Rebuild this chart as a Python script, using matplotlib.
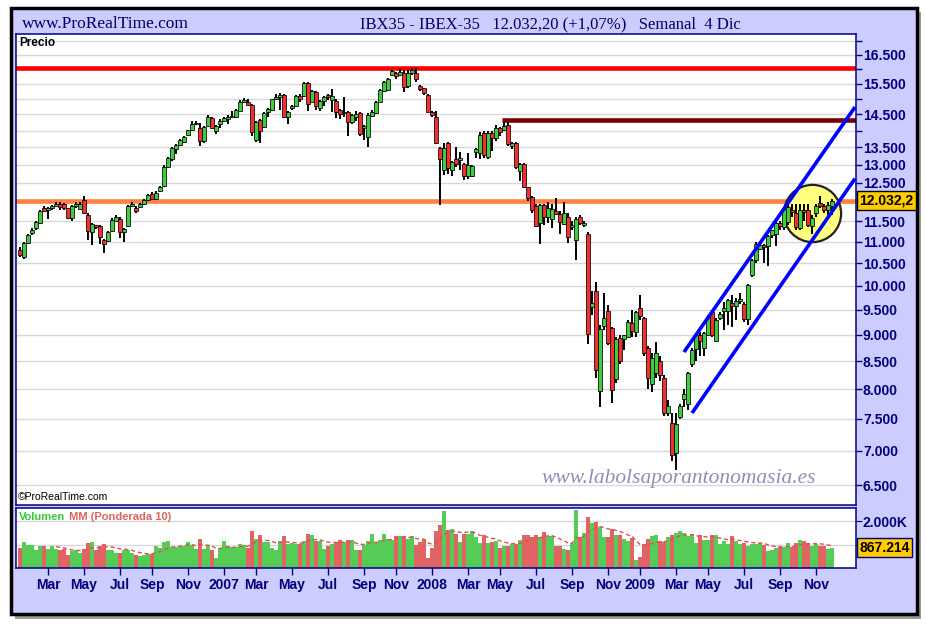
import numpy as np
import pandas as pd
import matplotlib
matplotlib.use("Agg")
import matplotlib.pyplot as plt
from matplotlib.patches import Rectangle
from matplotlib.ticker import NullLocator

# Weekly IBEX-35 candles, 13 Jan 2006 .. 4 Dec 2009
opens = [10800, 10640, 10985, 11210, 11330, 11460, 11830, 11790, 11830, 11890,
         11940, 11930, 11830, 11590, 11880, 11820, 12050, 11660, 11250, 11400,
         11380, 11050, 11020, 11260, 11520, 11570, 11230, 11380, 11890, 11840,
         11860, 11940, 12050, 12200, 12070, 12290, 12420, 12940, 13150, 13450,
         13560, 13650, 13860, 14010, 14190, 14069, 13688, 14138, 14375, 13987,
         14190, 14302, 14350, 14430, 14407, 14615, 14880, 14892, 14796, 13718,
         14323, 14117, 14580, 14637, 14978, 15043, 15120, 14407, 14700, 14774,
         15087, 15087, 15507, 14902, 15225, 14704, 14934, 15110, 14956, 14934,
         14637, 14530, 14565, 14270, 14426, 14530, 14069, 13815, 14448, 14530,
         14902, 15258, 15282, 15775, 15855, 15775, 15855, 15412, 15855, 15855,
         15417, 15340, 15120, 14584, 14407, 13473, 12853, 13620, 12853, 13165,
         13136, 13012, 12696, 12690, 13376, 13327, 13920, 13210, 13940, 13770,
         14069, 14017, 14169, 13540, 13620, 12817, 13012, 12383, 12117, 11898,
         11461, 11908, 11620, 11553, 11770, 11686, 11445, 11600, 11370, 11047,
         11600, 11412, 11200, 9560, 9890, 7965, 9180, 9480, 9125, 8170,
         8930, 8920, 8960, 9230, 9050, 9530, 9330, 8750, 8080, 8280,
         8500, 8200, 7590, 7429, 6960, 7530, 7830, 7750, 8450, 8720,
         9000, 8740, 9000, 9450, 8870, 9330, 9480, 9480, 9640, 9570,
         9670, 9620, 9320, 10230, 10570, 10830, 10930, 10900, 11170, 11200,
         11450, 11350, 11480, 11790, 11700, 11330, 11790, 11800, 11380, 11700,
         11980, 11890, 11800, 11900]
highs = [10870, 11000, 11190, 11330, 11510, 11800, 11900, 11860, 11920, 11990,
         11990, 11970, 11850, 11910, 12000, 11990, 12140, 11700, 11450, 11420,
         11400, 11080, 11260, 11580, 11650, 11620, 11340, 11910, 11990, 11900,
         11960, 12080, 12200, 12250, 12270, 12420, 12980, 13220, 13520, 13600,
         13750, 13830, 14030, 14300, 14290, 14220, 14150, 14479, 14420, 14180,
         14340, 14420, 14480, 14615, 14670, 14950, 15030, 15000, 14830, 14300,
         14350, 14580, 14700, 15000, 15140, 15180, 15150, 14620, 14800, 15120,
         15150, 15560, 15560, 15300, 15260, 14950, 15080, 15150, 15320, 15000,
         14670, 15043, 14600, 14520, 14600, 14560, 14180, 14540, 14630, 14940,
         15320, 15600, 15700, 15950, 15900, 16000, 15970, 15970, 16040, 16020,
         15450, 15360, 15150, 14620, 14600, 13500, 13640, 13650, 13100, 13500,
         13350, 13050, 13327, 13000, 13480, 13950, 13980, 13990, 13990, 14180,
         14120, 14270, 14270, 13660, 13660, 13040, 13040, 12400, 12150, 11950,
         11950, 11950, 12000, 11950, 12089, 11750, 12000, 11700, 11500, 11600,
         11650, 11500, 11250, 9900, 10090, 9200, 9860, 9600, 9150, 8950,
         9000, 9000, 9300, 9500, 9470, 9800, 9350, 8780, 8650, 8850,
         8600, 8250, 7820, 7600, 7600, 7750, 8000, 8300, 8750, 9010,
         9050, 9050, 9400, 9500, 9330, 9450, 9650, 9720, 9800, 9750,
         9850, 9650, 10050, 10600, 10990, 10950, 10960, 11170, 11300, 11480,
         11500, 11850, 11950, 11950, 11950, 11950, 11950, 11950, 11650, 11950,
         12150, 11950, 11990, 12080]
lows = [10640, 10600, 10950, 11170, 11300, 11440, 11760, 11570, 11800, 11860,
        11780, 11800, 11570, 11520, 11850, 11800, 11690, 11040, 10920, 11310,
        10950, 10740, 10990, 11240, 11500, 11100, 11000, 11360, 11870, 11720,
        11840, 11920, 12030, 12050, 12050, 12260, 12390, 12900, 13120, 13300,
        13530, 13620, 13830, 13990, 14170, 13540, 13620, 14100, 14040, 13900,
        14069, 14280, 14200, 14400, 14380, 14600, 14860, 14780, 13836, 13650,
        13620, 14090, 14410, 14610, 14950, 14637, 14380, 14200, 14650, 14750,
        14900, 15060, 14615, 14880, 14637, 14600, 14750, 14950, 14584, 14375,
        14350, 14426, 13845, 14200, 14300, 13836, 13718, 13520, 14420, 14500,
        14880, 15230, 15250, 15750, 15650, 15750, 15225, 15350, 15800, 15550,
        15250, 15120, 14560, 14420, 13600, 11916, 12715, 12750, 12690, 12950,
        12850, 12579, 12600, 12650, 13200, 13150, 13200, 13150, 13400, 13700,
        13850, 13980, 13550, 13450, 12880, 12560, 12350, 12020, 11700, 11350,
        10952, 11400, 11450, 11330, 11650, 11191, 11400, 10983, 11300, 10580,
        11420, 11350, 8820, 9400, 8200, 7700, 9100, 8800, 7760, 8100,
        8450, 8700, 8930, 8950, 8950, 9300, 8600, 8000, 7950, 8200,
        8150, 7550, 7550, 6850, 6715, 7500, 7700, 7650, 8400, 8500,
        8600, 8600, 8980, 8950, 8850, 9300, 9100, 9200, 9150, 9300,
        9620, 9250, 9200, 10200, 10500, 10800, 10500, 10450, 11100, 10900,
        11300, 11300, 11400, 11600, 11300, 11300, 11500, 11350, 11200, 11600,
        11850, 11700, 11650, 11650]
closes = [10690, 10985, 11170, 11300, 11490, 11770, 11770, 11830, 11890, 11940,
          11860, 11830, 11590, 11890, 11940, 11950, 11700, 11270, 11430, 11360,
          11110, 10950, 11250, 11540, 11620, 11230, 11320, 11890, 11940, 11770,
          11930, 12050, 12170, 12070, 12240, 12383, 12950, 13180, 13470, 13560,
          13730, 13810, 14010, 14210, 14240, 13688, 14099, 14407, 14069, 14147,
          14302, 14375, 14430, 14460, 14637, 14892, 14956, 14806, 13966, 14274,
          13987, 14552, 14660, 14978, 15043, 15120, 14407, 14583, 14770, 15087,
          15000, 15507, 14828, 15258, 14774, 14914, 15043, 15043, 15087, 14584,
          14510, 14584, 14254, 14479, 14510, 13894, 14138, 14479, 14584, 14902,
          15282, 15560, 15640, 15912, 15742, 15890, 15392, 15855, 15970, 15660,
          15303, 15173, 14584, 14479, 13640, 13156, 13473, 12900, 13070, 13020,
          13185, 12696, 12992, 12964, 13443, 13866, 13280, 13940, 13770, 14069,
          13966, 14138, 13598, 13620, 12927, 13012, 12400, 12089, 11788, 11387,
          11908, 11600, 11830, 11805, 11686, 11494, 11704, 11126, 11412, 11553,
          11453, 11453, 9013, 9630, 8340, 9120, 9330, 8830, 7984, 8920,
          8500, 8990, 9260, 9080, 9460, 9370, 8650, 8200, 8550, 8650,
          8250, 7600, 7710, 6936, 7420, 7720, 7910, 8290, 8700, 9000,
          8870, 9040, 9350, 9000, 9300, 9420, 9540, 9700, 9570, 9690,
          9720, 9320, 10020, 10570, 10960, 10930, 10880, 11140, 11280, 11450,
          11390, 11810, 11870, 11730, 11350, 11790, 11730, 11400, 11580, 11880,
          11880, 11800, 11920, 12032.2]
# Weekly volume, thousands
volumes = [874, 1128, 1001, 1001, 790, 959, 959, 832, 959, 832,
           790, 804, 536, 719, 776, 663, 818, 1086, 1114, 790,
           959, 1043, 790, 790, 663, 663, 790, 790, 635, 536,
           494, 536, 606, 606, 959, 874, 1114, 1156, 917, 917,
           945, 945, 1114, 973, 832, 1241, 804, 1001, 761, 409,
           874, 1156, 945, 888, 888, 1029, 1001, 874, 1579, 1241,
           1410, 1128, 1128, 874, 776, 1156, 1368, 1029, 1086, 1015,
           1043, 1156, 1466, 1410, 1156, 1156, 832, 959, 1043, 1128,
           1199, 1114, 1199, 1199, 776, 776, 1001, 1156, 1466, 1058,
           1199, 1466, 1241, 1213, 1368, 1368, 1368, 1241, 1368, 1001,
           1128, 1241, 409, 874, 1593, 1833, 2425, 1622, 1664, 1466,
           1114, 1466, 1466, 1579, 1340, 1086, 1424, 1086, 1128, 1156,
           874, 959, 959, 1043, 1043, 1213, 1424, 1424, 1340, 1424,
           1311, 1537, 1368, 1368, 959, 959, 832, 790, 1086, 2468,
           1340, 1509, 2186, 1932, 1974, 1777, 1340, 1340, 1664, 1424,
           1424, 1255, 1170, 1297, 353, 451, 1015, 1241, 1368, 1424,
           1170, 1114, 1340, 1424, 1509, 1593, 1481, 1354, 1466, 1058,
           1424, 1199, 1199, 1424, 1424, 1043, 1156, 1043, 1382, 1142,
           1029, 1086, 959, 1043, 1043, 1086, 1001, 733, 776, 874,
           888, 888, 1072, 888, 1072, 1199, 1156, 1043, 959, 1043,
           959, 959, 818, 867.214]

# Drawn objects
resistance_top = 16030
resistance_mid = 14315
resistance_mid_from = 120.5
support_line = 12030
channel_upper_x = [166, 208.75]
channel_upper_y = [8668, 14730]
channel_lower_x = [168, 208.75]
channel_lower_y = [7597, 12617]
circle_x, circle_y = 197.9, 11711

price_ticks = list(range(6500, 17001, 500))
price_labels = [16500, 15500, 14500, 13500, 13000, 12500, 11500, 11000, 10500,
                10000, 9500, 9000, 8500, 8000, 7500, 7000, 6500]
vol_ticks = [1000, 2000]
month_names = {1: None, 3: 'Mar', 5: 'May', 7: 'Jul', 9: 'Sep', 11: 'Nov'}

NAVY = '#000080'
NARROW = ['Liberation Sans Narrow', 'Liberation Sans', 'DejaVu Sans']
SANS = ['Liberation Sans', 'DejaVu Sans']
SERIF = ['Liberation Serif', 'DejaVu Serif']


def es_num(v, decimals=0):
    # Spanish number format: 12.032,2
    s = f"{v:,.{decimals}f}"
    return s.replace(',', '#').replace('.', ',').replace('#', '.')


dates = pd.date_range('2006-01-13', periods=len(closes), freq='7D')
x = np.arange(len(closes))
o = np.array(opens, float)
c = np.array(closes, float)
up = c >= o
colors = np.where(up, '#3FCC3F', '#F52E2E')

W, H = 926, 626
fig = plt.figure(figsize=(W / 100, H / 100), dpi=100, facecolor='white')

# Outer lavender frame with a shadow
fig.patches.append(Rectangle((15 / W, 1 - 619 / H), 906 / W, 607 / H, transform=fig.transFigure,
                             facecolor='#9a9a9a', edgecolor='none', zorder=-2))
fig.patches.append(Rectangle((11 / W, 1 - 614 / H), 906 / W, 606 / H, transform=fig.transFigure,
                             facecolor='#CCCCFF', edgecolor='black', lw=2.5, zorder=-1))

ax = fig.add_axes([16 / W, 1 - 505 / H, 840 / W, 471 / H])
axv = fig.add_axes([16 / W, 1 - 568 / H, 840 / W, 60 / H])

for a in (ax, axv):
    a.set_facecolor('white')
    for s in a.spines.values():
        s.set_color(NAVY)
        s.set_linewidth(1.1)
    a.set_xlim(-1, 209)

# ---- price panel ----
ax.set_yscale('log')
ax.set_ylim(6225, 17253)
ax.yaxis.set_minor_locator(NullLocator())
ax.yaxis.tick_right()
ax.set_yticks(price_ticks)
ax.set_yticklabels([es_num(v) if v in price_labels else '' for v in price_ticks])
ax.tick_params(axis='y', direction='out', length=4, width=1, color=NAVY, labelcolor=NAVY, pad=1)
for t in ax.get_yticklabels():
    t.set_family(NARROW)
    t.set_fontweight('bold')
    t.set_fontsize(10)
ax.set_xticks([])
ax.grid(axis='y', color='#d8d8d8', lw=1, zorder=0)
ax.set_axisbelow(True)

ax.axhline(resistance_top, color='#FF0000', lw=3.3, zorder=1.2)
ax.axhline(support_line, color='#FF8040', lw=3.3, zorder=1.2)
ax.hlines(resistance_mid, resistance_mid_from, 209, color='#7A0000', lw=3.3, zorder=1.2)

ax.scatter([circle_x], [circle_y], s=1700, marker='o', facecolor='#FFFF80',
           edgecolor='#222222', linewidths=1.6, zorder=1.5)

ax.vlines(x, lows, highs, color='black', lw=1.4, zorder=2)
ax.bar(x, np.abs(c - o), bottom=np.minimum(o, c), width=0.88, color=colors,
       edgecolor='black', linewidth=0.55, zorder=3)

ax.plot(channel_upper_x, channel_upper_y, color='#0000FF', lw=2.6, zorder=4, solid_capstyle='butt')
ax.plot(channel_lower_x, channel_lower_y, color='#0000FF', lw=2.6, zorder=4, solid_capstyle='butt')

ax.text(0.004, 0.993, 'Precio', transform=ax.transAxes, ha='left', va='top',
        fontsize=8.5, fontweight='bold', family=SANS)
ax.text(0.002, 0.006, '©ProRealTime.com', transform=ax.transAxes, ha='left', va='bottom',
        fontsize=7.5, family=NARROW)
ax.text(0.789, 0.057, 'www.labolsaporantonomasia.es', transform=ax.transAxes, ha='center',
        va='center', fontsize=15.5, style='italic', family=SERIF, color='#8E8EB8')

ax.text(1.004, closes[-1], es_num(closes[-1], 1),
        transform=ax.get_yaxis_transform(), ha='left', va='center', fontsize=10,
        fontweight='bold', family=NARROW, color='black', clip_on=False,
        bbox=dict(boxstyle='square,pad=0.18', facecolor='#FFCC00', edgecolor='black', lw=1))

# ---- volume panel ----
vol = np.array(volumes, float)
axv.bar(x, vol, width=0.8, color=np.where(up, '#55CC55', '#E06464'), linewidth=0, zorder=2)
weights = np.arange(1, 11)
wma = np.convolve(vol, weights[::-1], 'valid') / weights.sum()
axv.plot(x[9:], wma, color='#E05050', ls=(0, (3, 2)), lw=1, zorder=3)
axv.set_ylim(0, 2570)
axv.yaxis.tick_right()
axv.set_yticks(vol_ticks)
axv.set_yticklabels(['', '2.000K'])
axv.grid(axis='y', color='#d8d8d8', lw=1, zorder=0)
axv.set_axisbelow(True)
axv.tick_params(axis='y', direction='out', length=4, color=NAVY, labelcolor=NAVY, pad=1)
for t in axv.get_yticklabels():
    t.set_family(NARROW)
    t.set_fontweight('bold')
    t.set_fontsize(10)
axv.text(1.004, volumes[-1], es_num(volumes[-1], 3).replace(',', '.'),
         transform=axv.get_yaxis_transform(), ha='left', va='center', fontsize=10,
         fontweight='bold', family=NARROW, color='black', clip_on=False,
         bbox=dict(boxstyle='square,pad=0.18', facecolor='#FFCC00', edgecolor=NAVY, lw=1))

# month ticks at the first bar of each odd month
tick_pos, tick_lab = [], []
for i in range(1, len(dates)):
    m = dates[i].month
    if m != dates[i - 1].month and m in month_names:
        tick_pos.append(i)
        tick_lab.append(str(dates[i].year) if m == 1 else month_names[m])
axv.set_xticks(tick_pos)
axv.set_xticklabels(tick_lab)
axv.tick_params(axis='x', direction='out', length=5, width=1, color=NAVY, labelcolor=NAVY, pad=2)
for t in axv.get_xticklabels():
    t.set_family(NARROW)
    t.set_fontweight('bold')
    t.set_fontsize(10)

t1 = axv.text(0.004, 0.93, 'Volumen', transform=axv.transAxes, ha='left', va='top',
              fontsize=8, fontweight='bold', color='#33CC33', family=SANS)
axv.annotate(' MM (Ponderada 10)', xy=(1, 0), xycoords=t1, ha='left', va='bottom',
             fontsize=8, fontweight='bold', color='#E06060', family=SANS)

# ---- header ----
fig.text(22 / W, 1 - 24 / H, 'www.ProRealTime.com', ha='left', va='center',
         fontsize=12.5, family=SERIF, color='#000066')
fig.text(360 / W, 1 - 24 / H, 'IBX35 - IBEX-35   12.032,20 (+1,07%)   Semanal  4 Dic',
         ha='left', va='center', fontsize=12, family=SERIF, color='#000066')

fig.savefig('out.png', dpi=100, facecolor=fig.get_facecolor())
